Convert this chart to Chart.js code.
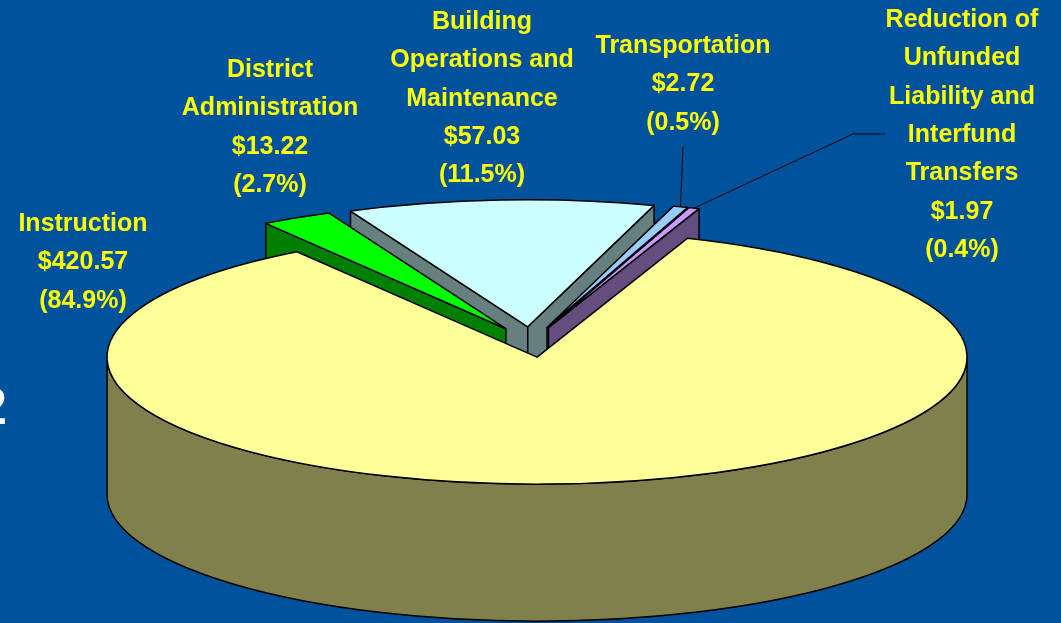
<!DOCTYPE html>
<html>
<head>
<meta charset="utf-8">
<script src="https://cdn.jsdelivr.net/npm/chart.js@4"></script>
<style>
  html, body { margin: 0; padding: 0; background: #00529C; }
  #wrap { width: 1061px; height: 623px; position: relative; }
</style>
</head>
<body>
<div id="wrap"><canvas id="spendpie"></canvas></div>
<script>
// Spending per category (millions)
const categories = [
    ['Instruction'],
    ['District', 'Administration'],
    ['Building', 'Operations and', 'Maintenance'],
    ['Transportation'],
    ['Reduction of', 'Unfunded', 'Liability and', 'Interfund', 'Transfers']
];
const amounts = [420.57, 13.22, 57.03, 2.72, 1.97];

// colours: top face / side wall
const topColors = ['#FFFF99', '#00FF00', '#CCFFFF', '#99CCFF', '#CC99FF'];
const wallColors = ['#80804D', '#008000', '#668080', '#4D6680', '#664D80'];

// 3d look
const RX = 430, RY = 127, DEPTH = 137, EXPLODE = 0.12;

// where the label blocks sit (centre x, middle of first line)
const labelAnchors = [[83, 224], [270, 70], [482, 22], [683, 46], [962, 20]];
const LINE_H = 38.4;
// leader lines from label side (null = none)
const leaders = [null, null, null, [[683, 147]], [[885, 134], [853, 134]]];

document.addEventListener('DOMContentLoaded', function () {
    const pie3d = {
        id: 'pie3d',
        beforeDatasetsDraw(chart) {
            const ctx = chart.ctx;
            const arcs = chart.getDatasetMeta(0).data;
            const slices = arcs.map((a, i) => {
                const mid = (a.startAngle + a.endAngle) / 2;
                return {
                    i: i, a0: a.startAngle, a1: a.endAngle, mid: mid,
                    ox: a.x + RX * EXPLODE * Math.cos(mid),
                    oy: a.y + RY * EXPLODE * Math.sin(mid)
                };
            });
            chart.$slices = slices;

            ctx.save();
            ctx.lineWidth = 1.5;
            ctx.lineJoin = 'round';
            ctx.strokeStyle = '#000';

            // back slices first
            const order = slices.slice().sort((p, q) => Math.sin(p.mid) - Math.sin(q.mid));
            order.forEach(s => {
                const wall = wallColors[s.i];
                ctx.fillStyle = wall;
                const quad = (ang) => {
                    const x = s.ox + RX * Math.cos(ang), y = s.oy + RY * Math.sin(ang);
                    ctx.beginPath();
                    ctx.moveTo(s.ox, s.oy);
                    ctx.lineTo(x, y);
                    ctx.lineTo(x, y + DEPTH);
                    ctx.lineTo(s.ox, s.oy + DEPTH);
                    ctx.closePath();
                    ctx.fill();
                    ctx.stroke();
                };
                if (Math.cos(s.a0) < 0) quad(s.a0);
                if (Math.cos(s.a1) > 0) quad(s.a1);

                // front part of the rim
                for (let k = -2; k <= 2; k++) {
                    const lo = Math.max(s.a0, 2 * Math.PI * k);
                    const hi = Math.min(s.a1, 2 * Math.PI * k + Math.PI);
                    if (hi - lo > 0.001) {
                        ctx.beginPath();
                        ctx.ellipse(s.ox, s.oy, RX, RY, 0, lo, hi, false);
                        ctx.ellipse(s.ox, s.oy + DEPTH, RX, RY, 0, hi, lo, true);
                        ctx.closePath();
                        ctx.fill();
                        ctx.stroke();
                    }
                }

                // top face
                ctx.fillStyle = topColors[s.i];
                ctx.beginPath();
                ctx.moveTo(s.ox, s.oy);
                ctx.ellipse(s.ox, s.oy, RX, RY, 0, s.a0, s.a1, false);
                ctx.closePath();
                ctx.fill();
                ctx.stroke();
            });
            ctx.restore();
            return false;
        },
        afterDraw(chart) {
            const ctx = chart.ctx;
            const data = chart.data.datasets[0].data;
            const total = data.reduce((a, b) => a + b, 0);
            const slices = chart.$slices || [];
            ctx.save();

            // leader lines
            ctx.strokeStyle = '#000';
            ctx.lineWidth = 1;
            leaders.forEach((pts, i) => {
                if (!pts || !slices[i]) return;
                const s = slices[i];
                ctx.beginPath();
                ctx.moveTo(pts[0][0], pts[0][1]);
                for (let k = 1; k < pts.length; k++) ctx.lineTo(pts[k][0], pts[k][1]);
                ctx.lineTo(s.ox + RX * Math.cos(s.mid), s.oy + RY * Math.sin(s.mid));
                ctx.stroke();
            });

            ctx.fillStyle = '#FFFF00';
            ctx.font = 'bold 25px "Liberation Sans", Arial, sans-serif';
            ctx.textAlign = 'center';
            ctx.textBaseline = 'middle';
            chart.data.labels.forEach((name, i) => {
                const lines = name.concat([
                    '$' + data[i].toFixed(2),
                    '(' + (data[i] / total * 100).toFixed(1) + '%)'
                ]);
                const [x, y] = labelAnchors[i];
                lines.forEach((t, k) => ctx.fillText(t, x, y + k * LINE_H));
            });

            // edge of slide text peeking in at the left
            ctx.fillStyle = '#FFFFFF';
            ctx.font = 'bold 52px "Liberation Sans", Arial, sans-serif';
            ctx.textAlign = 'right';
            ctx.textBaseline = 'alphabetic';
            ctx.fillText('2', 7, 424);
            ctx.restore();
        }
    };

    const ctx = document.getElementById('spendpie').getContext('2d');
    new Chart(ctx, {
        type: 'pie',
        data: {
            labels: categories,
            datasets: [{
                label: 'Spending',
                data: amounts,
                backgroundColor: topColors,
                borderWidth: 0
            }]
        },
        options: {
            responsive: true,
            maintainAspectRatio: false,
            animation: false,
            rotation: 20.5,
            layout: { padding: { left: 381, right: 380, top: 192, bottom: 131 } },
            plugins: {
                legend: { display: false },
                tooltip: { enabled: false }
            }
        },
        plugins: [pie3d]
    });
});
</script>
</body>
</html>
